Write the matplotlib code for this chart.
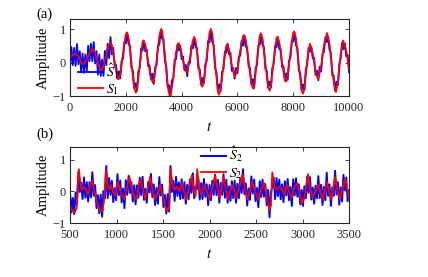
import numpy as np
import matplotlib
matplotlib.use("Agg")
import matplotlib.pyplot as plt

plt.rcParams['font.family'] = ['Liberation Serif', 'DejaVu Serif']
plt.rcParams['mathtext.fontset'] = 'stix'

# panel (a): S1 (red) key samples and S1-hat (blue) samples, t = 0..10000
s1_t = [0, 100, 200, 300, 400, 470, 500, 600, 700, 800, 820, 900, 1000, 1100, 1120,
        1200, 1300, 1400, 1450, 1500, 1600, 1700, 1740, 1800, 1900, 2000, 2040, 2100,
        2200, 2300, 2360, 2400, 2500, 2600, 2630, 2700, 2800, 2900, 2970, 3000, 3100,
        3200, 3270, 3300, 3400, 3500, 3580, 3600, 3700, 3800, 3880, 3900, 4000, 4100,
        4180, 4200, 4300, 4400, 4450, 4500, 4600, 4700, 4740, 4800, 4900, 5000, 5050,
        5100, 5200, 5300, 5340, 5400, 5500, 5600, 5630, 5700, 5800, 5910, 6000, 6100,
        6200, 6240, 6300, 6400, 6500, 6560, 6600, 6700, 6800, 6840, 6900, 7000, 7100,
        7150, 7200, 7300, 7400, 7430, 7500, 7600, 7700, 7740, 7800, 7900, 8000, 8030,
        8100, 8200, 8300, 8350, 8400, 8500, 8600, 8700, 8800, 8890, 9000, 9100, 9210,
        9300, 9400, 9500, 9530, 9600, 9700, 9790, 9900, 10000]
s1_v = [0.15, 0.23, 0.28, 0.18, 0.00, -0.05, -0.04, 0.09, 0.28, 0.40, 0.40, 0.29, -0.02,
        -0.23, -0.24, -0.12, 0.24, 0.55, 0.60, 0.52, 0.02, -0.45, -0.50, -0.37, 0.27,
        0.84, 0.90, 0.75, 0.00, -0.75, -0.90, -0.82, -0.07, 0.61, 0.66, 0.53, 0.03,
        -0.47, -0.60, -0.56, 0.03, 0.79, 1.00, 0.95, 0.24, -0.71, -1.03, -1.01, -0.47,
        0.31, 0.58, 0.57, 0.28, -0.15, -0.30, -0.29, 0.13, 0.66, 0.75, 0.65, -0.02,
        -0.65, -0.72, -0.57, 0.18, 0.89, 1.00, 0.86, -0.03, -0.87, -0.96, -0.81, -0.09,
        0.50, 0.54, 0.40, -0.10, -0.42, -0.21, 0.35, 0.78, 0.82, 0.69, 0.02, -0.64,
        -0.78, -0.70, 0.05, 0.79, 0.87, 0.72, -0.03, -0.73, -0.84, -0.72, 0.06, 0.72,
        0.77, 0.61, 0.00, -0.52, -0.57, -0.42, 0.30, 0.89, 0.93, 0.72, -0.09, -0.82,
        -0.93, -0.79, 0.05, 0.56, 0.28, -0.27, -0.50, -0.13, 0.51, 0.88, 0.56, -0.26,
        -0.84, -0.88, -0.62, 0.25, 0.66, 0.35, -0.18]
s1_hat = [-0.17, 0.46, -0.08, 0.44, -0.10, 0.55, -0.05, 0.34, -0.30, 0.27, -0.31, 0.24,
          -0.26, 0.50, 0.04, 0.56, 0.04, 0.61, -0.03, 0.34, -0.36, 0.24, -0.40, 0.09,
          -0.40, 0.35, -0.08, 0.56, 0.13, 0.76, 0.24, 0.44, -0.12, -0.07, -0.48, -0.26,
          -0.47, 0.06, 0.11, 0.63, 0.57, 0.88, 0.54, 0.50, -0.16, -0.24, -0.76, -0.62,
          -0.84, -0.26, -0.16, 0.42, 0.36, 0.64, 0.33, 0.39, -0.11, -0.08, -0.50, -0.33,
          -0.64, -0.14, -0.09, 0.50, 0.53, 0.95, 0.71, 0.69, 0.04, -0.11, -0.72, -0.68,
          -1.00, -0.53, -0.50, 0.09, 0.10, 0.54, 0.36, 0.51, 0.10, 0.18, -0.23, -0.07,
          -0.41, 0.02, -0.01, 0.50, 0.42, 0.76, 0.45, 0.44, -0.18, -0.20, -0.67, -0.46,
          -0.62, -0.05, 0.05, 0.64, 0.60, 0.95, 0.61, 0.52, -0.17, -0.29, -0.84, -0.65,
          -0.85, -0.28, -0.20, 0.33, 0.29, 0.56, 0.24, 0.29, -0.25, -0.16, -0.48, -0.16,
          -0.32, 0.18, 0.20, 0.65, 0.50, 0.79, 0.47, 0.45, -0.12, -0.15, -0.64, -0.49,
          -0.76, -0.18, -0.08, 0.51, 0.53, 0.85, 0.51, 0.46, -0.19, -0.24, -0.74, -0.57,
          -0.75, -0.16, -0.05, 0.50, 0.45, 0.75, 0.40, 0.40, -0.14, -0.11, -0.54, -0.32,
          -0.52, 0.05, 0.14, 0.67, 0.62, 0.89, 0.51, 0.44, -0.24, -0.30, -0.82, -0.65,
          -0.81, -0.20, -0.06, 0.44, 0.32, 0.47, 0.12, 0.14, -0.37, -0.24, -0.53, -0.12,
          -0.27, 0.27, 0.31, 0.75, 0.61, 0.77, 0.38, 0.29, -0.38, -0.39, -0.83, -0.57,
          -0.67, -0.05, 0.11, 0.59, 0.40, 0.57, 0.18, 0.23, -0.29]

# panel (b): S2 (red) key samples and S2-hat (blue) samples, t = 500..3500
s2_t = [500, 520, 550, 570, 585, 595, 610, 625, 650, 670, 690, 720, 740, 760, 790, 820,
        850, 870, 885, 900, 920, 940, 960, 985, 1010, 1030, 1060, 1085, 1110, 1140, 1160,
        1190, 1215, 1240, 1260, 1285, 1310, 1340, 1360, 1385, 1410, 1440, 1470, 1500,
        1540, 1565, 1580, 1600, 1620, 1650, 1675, 1700, 1720, 1750, 1780, 1810, 1830,
        1850, 1868, 1885, 1910, 1950, 1975, 2000, 2030, 2060, 2085, 2110, 2150, 2175,
        2200, 2240, 2260, 2290, 2330, 2355, 2380, 2410, 2440, 2460, 2485, 2520, 2560,
        2590, 2615, 2645, 2660, 2675, 2695, 2720, 2750, 2780, 2800, 2830, 2855, 2880,
        2910, 2940, 2965, 2990, 3020, 3060, 3080, 3110, 3140, 3170, 3195, 3220, 3260,
        3285, 3310, 3350, 3375, 3400, 3430, 3460, 3480, 3500]
s2_v = [-0.45, -0.60, -0.66, -0.55, 0.30, 0.70, 0.30, 0.05, 0.15, 0.05, -0.10, 0.20, 0.32,
        0.05, -0.35, -0.60, -0.62, -0.20, 0.67, 0.25, 0.05, 0.20, 0.00, -0.15, 0.30, 0.15,
        -0.15, -0.25, 0.10, 0.45, 0.15, -0.20, -0.25, 0.20, 0.40, 0.05, -0.25, 0.15, 0.45,
        0.10, -0.25, -0.10, 0.20, -0.20, -0.62, -0.55, 0.72, 0.25, 0.05, 0.15, 0.00, 0.28,
        0.05, -0.25, 0.10, 0.50, 0.05, -0.15, 0.70, 0.15, -0.10, 0.20, -0.05, -0.25, 0.10,
        0.50, 0.10, -0.20, 0.45, 0.05, -0.25, 0.20, 0.10, -0.20, 0.25, 0.55, 0.10, -0.25,
        0.10, 0.30, 0.05, -0.25, 0.10, 0.25, -0.20, -0.60, -0.45, 0.60, 0.20, 0.05, 0.15,
        0.05, -0.10, 0.22, 0.00, -0.20, 0.10, 0.26, 0.00, -0.40, -0.20, 0.54, 0.10, -0.20,
        0.00, 0.22, -0.05, -0.25, 0.30, 0.00, -0.25, 0.45, 0.05, -0.25, 0.10, 0.40, 0.10,
        -0.20]
s2_hat = [-0.02, -0.67, -0.21, -0.72, -0.04, -0.41, 0.61, -0.02, 0.27, -0.24, 0.44, -0.20,
          0.29, -0.32, 0.29, -0.19, 0.60, -0.14, 0.20, -0.53, -0.12, -0.69, -0.10, -0.80,
          0.01, -0.22, 0.80, -0.21, 0.42, -0.11, 0.33, -0.34, 0.10, -0.28, 0.54, -0.12,
          0.34, -0.35, 0.09, -0.53, 0.35, -0.11, 0.49, -0.05, 0.29, -0.32, 0.19, -0.41,
          0.19, -0.20, 0.43, -0.12, 0.46, -0.27, 0.08, -0.36, 0.29, -0.03, 0.55, -0.18,
          0.22, -0.43, 0.11, -0.39, 0.45, -0.13, 0.21, -0.50, -0.11, -0.70, -0.09, -0.64,
          0.80, -0.02, 0.33, -0.30, 0.46, -0.14, 0.28, -0.24, 0.38, -0.22, 0.29, -0.39,
          0.21, -0.25, 0.38, -0.05, 0.57, -0.22, 0.15, 0.07, 0.40, -0.26, 0.26, -0.24,
          0.39, -0.17, 0.22, -0.44, 0.20, -0.28, 0.33, -0.11, 0.53, -0.12, 0.36, -0.36,
          0.27, -0.11, 0.54, -0.20, 0.37, -0.36, 0.16, -0.30, 0.32, -0.21, 0.33, -0.36,
          0.24, -0.22, 0.40, -0.05, 0.70, -0.09, 0.25, -0.45, 0.09, -0.27, 0.47, -0.07,
          0.37, -0.31, 0.11, -0.50, 0.32, -0.18, 0.37, -0.17, 0.23, -0.44, 0.05, -0.82,
          -0.02, 0.14, 0.43, -0.25, 0.42, -0.15, 0.37, -0.25, 0.22, -0.34, 0.32, -0.13,
          0.39, -0.28, 0.14, -0.46, 0.38, -0.13, 0.41, -0.17, 0.22, -0.41, 0.05, -0.46,
          0.16, -0.22, 0.47, -0.05, 0.45, -0.26, 0.12, -0.39, 0.18, -0.22, 0.48, -0.21,
          0.21, -0.43, 0.14, -0.28, 0.59, -0.14, 0.22, -0.46, 0.13, -0.14, 0.65, -0.10,
          0.29, -0.42, 0.13, -0.32, 0.52, 0.03, 0.44, -0.31, 0.04]

ticks_a = [0, 2000, 4000, 6000, 8000, 10000]
ticks_b = [500, 1000, 1500, 2000, 2500, 3000, 3500]


def style_axes(ax):
    ax.tick_params(direction='in', top=True, right=True, length=3, width=0.6,
                   labelsize=9, colors='#262626')
    ax.tick_params(axis='x', pad=4)
    ax.tick_params(axis='y', pad=3)
    for sp in ax.spines.values():
        sp.set_linewidth(0.8)
        sp.set_color('#262626')
    ax.set_yticks([-1, 0, 1])
    ax.set_ylabel('Amplitude', fontsize=10.5, labelpad=2)
    ax.set_xlabel('$t$', fontsize=10.5, labelpad=5)


fig = plt.figure(figsize=(4.28, 2.77), dpi=100)

ax1 = fig.add_axes([0.1636, 0.6534, 0.6519, 0.278])
t1 = np.linspace(0, 10000, len(s1_hat))
ax1.plot(t1, s1_hat, color='b', lw=1.3, label=r'$\hat{S}_1$')
ax1.plot(s1_t, s1_v, color='r', lw=1.3, label=r'$S_1$')
ax1.set_xlim(0, 10000)
ax1.set_ylim(-1, 1.3)
ax1.set_xticks(ticks_a)
style_axes(ax1)
ax1.legend(loc='lower left', bbox_to_anchor=(0.0, -0.12), frameon=False, fontsize=10,
           handlelength=1.8, handletextpad=0.2, labelspacing=0.1, borderaxespad=0.2)
fig.text(0.085, 0.95, '(a)', fontsize=10.5, va='center', ha='left')

ax2 = fig.add_axes([0.1636, 0.1949, 0.6519, 0.2744])
t2 = np.linspace(500, 3500, len(s2_hat))
ax2.plot(t2, s2_hat, color='b', lw=1.4, label=r'$\hat{S}_2$')
ax2.plot(s2_t, s2_v, color='r', lw=1.3, label=r'$S_2$')
ax2.set_xlim(500, 3500)
ax2.set_ylim(-1, 1.4)
ax2.set_xticks(ticks_b)
style_axes(ax2)
ax2.legend(loc='upper left', bbox_to_anchor=(0.44, 1.13), frameon=False, fontsize=10,
           handlelength=1.8, handletextpad=0.2, labelspacing=0.1, borderaxespad=0.2)
fig.text(0.085, 0.515, '(b)', fontsize=10.5, va='center', ha='left')

fig.savefig('out.png', dpi=100)
